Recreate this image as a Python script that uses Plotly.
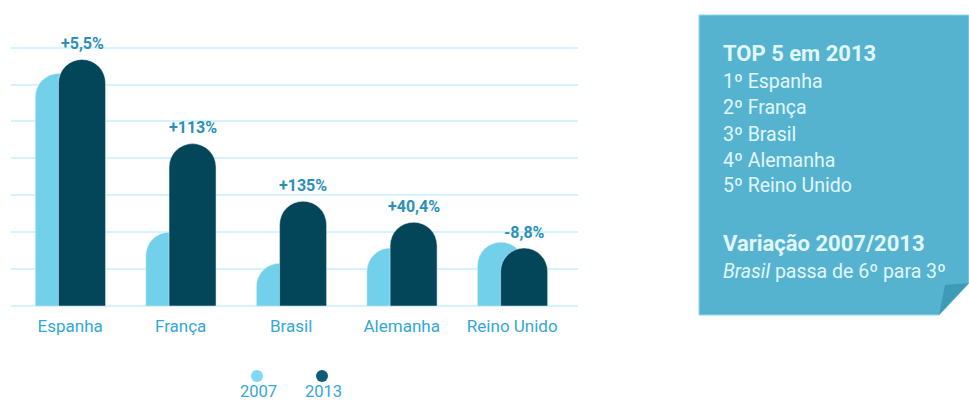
import plotly.graph_objects as go

categories = ["Espanha", "França", "Brasil", "Alemanha", "Reino Unido"]
v2007 = [6.30, 2.00, 1.16, 1.57, 1.73]
v2013 = [6.68, 4.40, 2.84, 2.27, 1.57]
changes = ["+5,5%", "+113%", "+135%", "+40,4%", "-8,8%"]
years = ["2007", "2013"]
top5 = ["1º Espanha", "2º França", "3º Brasil", "4º Alemanha", "5º Reino Unido"]

W, H = 969, 400
L, R, T, B = 11, 578, 10, 306   # plot area in pixels

def px(x):
    return (x - L) / (R - L)

def py(y):
    return (B - y) / (B - T)

LIGHT = "#72d0ea"
DARK = "#03465a"
FONT = "Roboto"
TICK = "#34a7d6"

fig = go.Figure()
fig.add_trace(go.Bar(x=categories, y=v2007, name=years[0], marker_color=LIGHT,
                     width=0.425, offset=-0.315, showlegend=False, hoverinfo="skip"))
fig.add_trace(go.Bar(x=categories, y=v2013, name=years[1], marker_color=DARK,
                     width=0.425, offset=-0.105, showlegend=False, hoverinfo="skip"))

annotations = []
for c, v, t in zip(categories, v2013, changes):
    annotations.append(dict(x=c, y=v, xref="x", yref="y", text="<b>" + t + "</b>",
                            showarrow=False, xshift=12, yshift=16, yanchor="middle",
                            font=dict(family=FONT, size=16, color="#2b90b8")))

# legend
shapes = []
leg = [(257, "#7fd9f5", years[0]), (322, "#0f5d74", years[1])]
for cx, col, lab in leg:
    shapes.append(dict(type="circle", xref="paper", yref="paper",
                       x0=px(cx - 6), x1=px(cx + 6), y0=py(382), y1=py(370),
                       fillcolor=col, line=dict(width=0)))
    annotations.append(dict(x=px(cx + 1), y=py(391), xref="paper", yref="paper", text=lab,
                            showarrow=False, xanchor="center", yanchor="middle",
                            font=dict(family=FONT, size=16.5, color=TICK)))

# info box
box = [(699, 15), (969, 15), (969, 283), (939, 315), (699, 315)]
path = "M " + " L ".join(f"{px(x)},{py(y)}" for x, y in box) + " Z"
shapes.append(dict(type="path", xref="paper", yref="paper", path=path,
                   fillcolor="#56b3d0", line=dict(color="#8ed6ec", width=1)))
flap = [(939, 315), (945, 285), (969, 283)]
path2 = "M " + " L ".join(f"{px(x)},{py(y)}" for x, y in flap) + " Z"
shapes.append(dict(type="path", xref="paper", yref="paper", path=path2,
                   fillcolor="#3d9bb8", line=dict(width=0)))

TXT = "#e0f7fd"
annotations.append(dict(x=px(721), y=py(53), xref="paper", yref="paper",
                        text="<b>TOP 5 em 2013</b>", showarrow=False, xanchor="left",
                        yanchor="middle", font=dict(family=FONT, size=22, color=TXT)))
for i, t in enumerate(top5):
    annotations.append(dict(x=px(721), y=py(82 + 26 * i), xref="paper", yref="paper",
                            text=t, showarrow=False, xanchor="left", yanchor="middle",
                            font=dict(family=FONT, size=19.5, color=TXT)))
annotations.append(dict(x=px(721), y=py(243), xref="paper", yref="paper",
                        text="<b>Variação 2007/2013</b>", showarrow=False, xanchor="left",
                        yanchor="middle", font=dict(family=FONT, size=22, color=TXT)))
annotations.append(dict(x=px(721), y=py(271), xref="paper", yref="paper",
                        text="<i>Brasil</i> passa de 6º para 3º", showarrow=False, xanchor="left",
                        yanchor="middle", font=dict(family=FONT, size=19.5, color=TXT)))

fig.update_layout(
    width=W, height=H, autosize=False,
    margin=dict(l=L, r=W - R, t=T, b=H - B, pad=0),
    paper_bgcolor="white", plot_bgcolor="white",
    barmode="overlay", barcornerradius="50%",
    showlegend=False, hovermode=False,
    shapes=shapes, annotations=annotations,
    xaxis=dict(type="category", range=[-0.535, 4.595], showgrid=False, zeroline=False,
               showline=False, ticks="", ticklabelstandoff=8,
               tickfont=dict(family=FONT, size=17, color=TICK)),
    yaxis=dict(range=[0, 8.02], dtick=1, showticklabels=False, showgrid=True,
               gridcolor="#d5f3fd", gridwidth=2, zeroline=True, zerolinecolor="#d5f3fd",
               zerolinewidth=2, showline=False, ticks=""),
)

fig.write_html("out.html", config={"displayModeBar": False},
               post_script="document.body.style.margin='0';document.body.style.overflow='hidden';")
